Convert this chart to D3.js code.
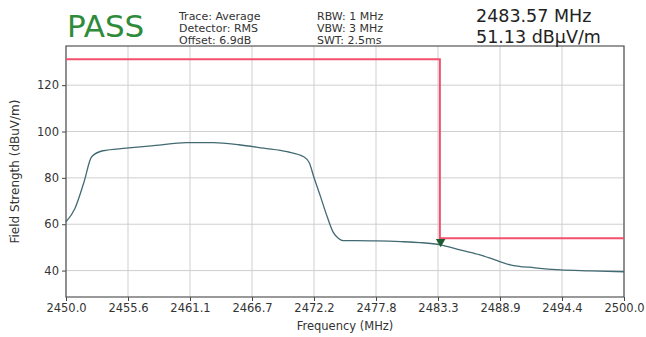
<!DOCTYPE html>
<html><head><meta charset="utf-8">
<script src="https://cdn.jsdelivr.net/npm/d3@7"></script>
<style>
html,body{margin:0;padding:0;background:#fff;}
svg{display:block;font-family:"DejaVu Sans",sans-serif;}
</style></head>
<body>
<svg id="c" width="646" height="337"></svg>
<script>
const freqs = [2450.0, 2450.8, 2451.6, 2452.3, 2453.3, 2455.4, 2458.0, 2460.8, 2463.2, 2465.5, 2467.7, 2469.8, 2471.3, 2471.8, 2472.2, 2472.8, 2473.4, 2473.95, 2474.4, 2474.85, 2476.0, 2477.8, 2480.0, 2481.7, 2483.57, 2485.3, 2487.1, 2488.5, 2489.8, 2492.0, 2494.3, 2497.0, 2500.0];
const levels = [61.0, 66.8, 78.0, 89.1, 91.7, 92.8, 94.0, 95.2, 95.2, 94.3, 92.8, 91.3, 89.1, 86.5, 80.5, 72.0, 63.3, 56.5, 54.0, 52.9, 52.9, 52.8, 52.5, 52.1, 51.13, 48.9, 46.8, 44.5, 42.5, 41.2, 40.3, 39.9, 39.5];
const limitFreqs = [2450.0, 2483.5, 2483.5, 2500.0];
const limitLevels = [131.2, 131.2, 54.0, 54.0];
const markerFreq = [2483.57];
const markerLevel = [51.13];
const xTicks = [2450.0, 2455.556, 2461.111, 2466.667, 2472.222, 2477.778, 2483.333, 2488.889, 2494.444, 2500.0];
const yTicks = [40, 60, 80, 100, 120];
const infoCol1 = ["Trace: Average", "Detector: RMS", "Offset: 6.9dB"];
const infoCol2 = ["RBW: 1 MHz", "VBW: 3 MHz", "SWT: 2.5ms"];
const statusText = "PASS";
const markerText = ["2483.57 MHz", "51.13 dBµV/m"];
const xLabel = "Frequency (MHz)";
const yLabel = "Field Strength (dBuV/m)";

const svg = d3.select("#c");
const L = 66, R = 624, T = 46, B = 297;
const x = d3.scaleLinear().domain([2450, 2500]).range([L, R]);
const y = d3.scaleLinear().domain([28.6, 136.9]).range([B, T]);

// grid
const g = svg.append("g");
g.selectAll(".vg").data(xTicks).join("line")
  .attr("x1", d => x(d)).attr("x2", d => x(d)).attr("y1", T).attr("y2", B)
  .attr("stroke", "#cfcfcf").attr("stroke-width", 1);
g.selectAll(".hg").data(yTicks).join("line")
  .attr("x1", L).attr("x2", R).attr("y1", d => y(d)).attr("y2", d => y(d))
  .attr("stroke", "#cfcfcf").attr("stroke-width", 1);

// axes
const xAxis = d3.axisBottom(x).tickValues(xTicks).tickFormat(d3.format(".1f")).tickSizeOuter(0).tickSize(4).tickPadding(3);
const yAxis = d3.axisLeft(y).tickValues(yTicks).tickSizeOuter(0).tickSize(4).tickPadding(3);
const gx = svg.append("g").attr("transform", `translate(0,${B})`).call(xAxis);
const gy = svg.append("g").attr("transform", `translate(${L},0)`).call(yAxis);
[gx, gy].forEach(a => {
  a.select(".domain").remove();
  a.selectAll("line").attr("stroke", "#444");
  a.selectAll("text").attr("fill", "#333").style("font-size", "11.5px").style("font-family", "DejaVu Sans, sans-serif");
});

// frame
svg.append("rect").attr("x", L).attr("y", T).attr("width", R - L).attr("height", B - T)
  .attr("fill", "none").attr("stroke", "#555").attr("stroke-width", 1.2);

// limit line
const line = d3.line().x(d => x(d[0])).y(d => y(d[1]));
svg.append("path").datum(limitFreqs.map((f, i) => [f, limitLevels[i]]))
  .attr("d", line).attr("fill", "none").attr("stroke", "#f4506c").attr("stroke-width", 2);

// trace
const trace = d3.line().x(d => x(d[0])).y(d => y(d[1])).curve(d3.curveMonotoneX);
svg.append("path").datum(freqs.map((f, i) => [f, levels[i]]))
  .attr("d", trace).attr("fill", "none").attr("stroke", "#426a72").attr("stroke-width", 1.3);

// marker
svg.selectAll(".mk").data(markerFreq).join("path")
  .attr("d", d3.symbol().type(d3.symbolTriangle).size(40))
  .attr("transform", (d, i) => `translate(${x(d)},${y(markerLevel[i]) - 3}) rotate(180)`)
  .attr("fill", "#1d5c30");

// header texts
svg.append("text").attr("x", 67).attr("y", 37).text(statusText)
  .attr("fill", "#2e8b3a").style("font-size", "31px");
svg.selectAll(".c1").data(infoCol1).join("text")
  .attr("x", 179).attr("y", (d, i) => 20 + i * 12).text(d => d)
  .attr("fill", "#333").style("font-size", "11px");
svg.selectAll(".c2").data(infoCol2).join("text")
  .attr("x", 317).attr("y", (d, i) => 20 + i * 12).text(d => d)
  .attr("fill", "#333").style("font-size", "11px");
svg.selectAll(".mt").data(markerText).join("text")
  .attr("x", 476).attr("y", (d, i) => 22 + i * 21).text(d => d)
  .attr("fill", "#222").style("font-size", "17.5px");

// axis labels
svg.append("text").attr("x", (L + R) / 2).attr("y", 330).attr("text-anchor", "middle")
  .text(xLabel).attr("fill", "#333").style("font-size", "11.5px");
svg.append("text").attr("transform", `translate(19,${(T + B) / 2}) rotate(-90)`).attr("text-anchor", "middle")
  .text(yLabel).attr("fill", "#333").style("font-size", "12px");
</script>
</body></html>
